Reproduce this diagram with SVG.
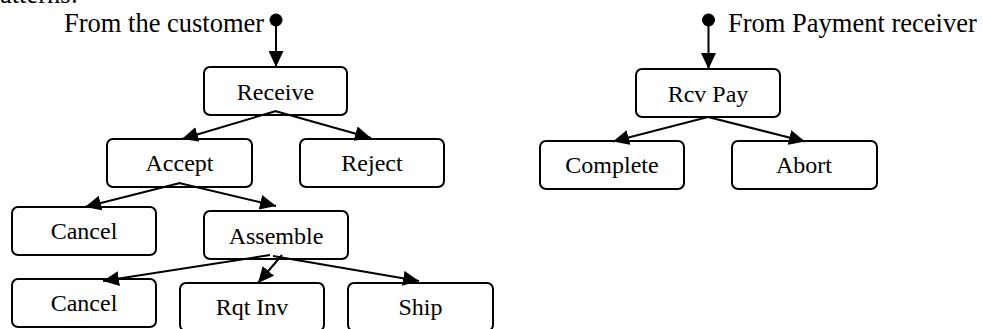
<svg xmlns="http://www.w3.org/2000/svg" width="983" height="329" viewBox="0 0 983 329">
<style>
  .box { fill: #fff; stroke: #000; stroke-width: 2; }
  .lbl { font-family: "Liberation Serif", "Times New Roman", serif; font-size: 24px; text-anchor: middle; fill: #000; }
  .big { font-family: "Liberation Serif", "Times New Roman", serif; font-size: 26.5px; fill: #000; }
  .edge { stroke: #000; stroke-width: 2; fill: none; marker-end: url(#ah); }
</style>
<defs>
  <marker id="ah" markerUnits="userSpaceOnUse" markerWidth="16" markerHeight="15" refX="16" refY="7.5" orient="auto">
    <path d="M0,0 L16,7.5 L0,15 z" fill="#000"/>
  </marker>
</defs>
<rect width="983" height="329" fill="#fff"/>
<text class="big" x="0" y="3">atterns:</text>
<g id="start-customer">
  <circle cx="276" cy="20" r="6.5" fill="#000"/>
  <text class="big" x="64" y="32">From the customer</text>
</g>
<g id="start-payment">
  <circle cx="708.5" cy="20" r="6.5" fill="#000"/>
  <text class="big" x="728" y="32">From Payment receiver</text>
</g>
<g id="receive"><rect class="box" x="204" y="67" width="143" height="48" rx="6"/><text class="lbl" x="275.5" y="100">Receive</text></g>
<g id="accept"><rect class="box" x="107" y="139" width="145" height="48" rx="6"/><text class="lbl" x="179.5" y="171">Accept</text></g>
<g id="reject"><rect class="box" x="300" y="139" width="144" height="48" rx="6"/><text class="lbl" x="372" y="171">Reject</text></g>
<g id="cancel1"><rect class="box" x="12" y="207" width="144" height="48" rx="6"/><text class="lbl" x="84" y="239">Cancel</text></g>
<g id="assemble"><rect class="box" x="204" y="211" width="144" height="48" rx="6"/><text class="lbl" x="276" y="244">Assemble</text></g>
<g id="cancel2"><rect class="box" x="12" y="279" width="144" height="48" rx="6"/><text class="lbl" x="84" y="311">Cancel</text></g>
<g id="rqtinv"><rect class="box" x="180" y="283" width="144" height="48" rx="6"/><text class="lbl" x="252" y="315">Rqt Inv</text></g>
<g id="ship"><rect class="box" x="348" y="283" width="145" height="48" rx="6"/><text class="lbl" x="420.5" y="315">Ship</text></g>
<g id="rcvpay"><rect class="box" x="636" y="69" width="144" height="48" rx="6"/><text class="lbl" x="708" y="102">Rcv Pay</text></g>
<g id="complete"><rect class="box" x="540" y="141" width="144" height="48" rx="6"/><text class="lbl" x="612" y="173">Complete</text></g>
<g id="abort"><rect class="box" x="732" y="141" width="145" height="48" rx="6"/><text class="lbl" x="804" y="173">Abort</text></g>
<g id="connectors">
  <line class="edge" x1="276" y1="20" x2="276" y2="67"/>
  <line class="edge" x1="708.5" y1="20" x2="708.5" y2="69"/>
  <line class="edge" x1="276" y1="111" x2="182" y2="139"/>
  <line class="edge" x1="275" y1="111" x2="371" y2="138"/>
  <line class="edge" x1="180" y1="183" x2="85" y2="207"/>
  <line class="edge" x1="179" y1="183" x2="276" y2="206"/>
  <line class="edge" x1="270" y1="255" x2="103" y2="281"/>
  <line class="edge" x1="282" y1="255" x2="258" y2="283"/>
  <line class="edge" x1="273" y1="256" x2="419" y2="281"/>
  <line class="edge" x1="708" y1="117" x2="613" y2="141.5"/>
  <line class="edge" x1="708" y1="117" x2="805" y2="141.5"/>
</g>
</svg>
